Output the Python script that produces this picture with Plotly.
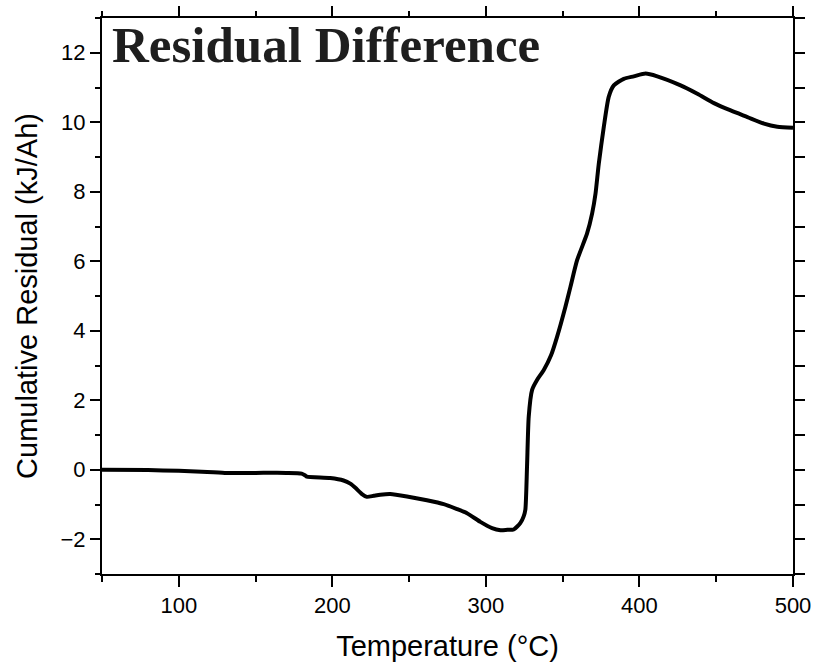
import plotly.graph_objects as go

# Data
temperature = [50, 80, 100, 115, 130, 150, 170, 180, 182.5, 183.4, 198.6, 207.3, 211.7, 215, 219.3, 222.5,
               227, 231.2, 237.7, 248.6, 261.6, 272.5, 281.2, 287.7, 296.4, 304, 309.5, 314, 318.1,
               322.5, 324.6, 325.7, 326.8, 327.9, 330.1, 333.4, 337.7, 342.5, 346.4, 351.8,
               355.1, 359.4, 365.9, 369.2, 371.4, 373.5, 376.8, 380, 383.3, 389.8, 396.3, 404,
               411.6, 426.8, 437.7, 448.5, 459.4, 470.3, 481.1, 489.8, 500]
residual = [0.0, -0.01, -0.03, -0.06, -0.09, -0.09, -0.09, -0.11, -0.17, -0.2, -0.24, -0.31, -0.40, -0.52,
            -0.70, -0.78, -0.75, -0.72, -0.70, -0.77, -0.88, -0.99, -1.13, -1.25, -1.50, -1.68, -1.74,
            -1.73, -1.72, -1.53, -1.34, -1.15, 0.1, 1.53, 2.30, 2.59, 2.87, 3.30, 3.83, 4.69,
            5.27, 6.03, 6.80, 7.38, 7.95, 8.80, 9.87, 10.73, 11.06, 11.25, 11.32, 11.40,
            11.32, 11.06, 10.82, 10.55, 10.34, 10.15, 9.96, 9.87, 9.84]

x_range = [50, 500]
y_range = [-3, 13]
x_tick_vals = [100, 200, 300, 400, 500]
y_tick_vals = [-2, 0, 2, 4, 6, 8, 10, 12]
x_title = "Temperature (°C)"
y_title = "Cumulative Residual (kJ/Ah)"
chart_title = "<b>Residual Difference</b>"

fig = go.Figure()
fig.add_trace(go.Scatter(x=temperature, y=residual, mode="lines",
                         line=dict(color="black", width=4, shape="spline", smoothing=0.6),
                         showlegend=False, hoverinfo="skip"))

tickfont = dict(family="Liberation Sans, Arial, sans-serif", size=22, color="black")
titlefont = dict(family="Liberation Sans, Arial, sans-serif", size=29, color="black")

fig.update_layout(
    width=818, height=662,
    margin=dict(l=102, r=25, t=18, b=88, autoexpand=False),
    plot_bgcolor="white", paper_bgcolor="white",
    xaxis=dict(range=x_range, tickvals=x_tick_vals, ticks="outside", ticklen=11, tickwidth=2,
               tickcolor="black", showline=True, linecolor="black", linewidth=2,
               showgrid=False, zeroline=False, tickfont=tickfont, automargin=False,
               minor=dict(dtick=50, tick0=0, ticks="outside", ticklen=6, tickwidth=2, tickcolor="black", showgrid=False),
               title=dict(text=x_title, font=titlefont, standoff=18)),
    yaxis=dict(range=y_range, tickvals=y_tick_vals, ticks="outside", ticklen=10, tickwidth=2,
               tickcolor="black", showline=True, linecolor="black", linewidth=2,
               showgrid=False, zeroline=False, tickfont=tickfont, automargin=False,
               minor=dict(dtick=1, tick0=0, ticks="outside", ticklen=5, tickwidth=2, tickcolor="black", showgrid=False),
               title=dict(text=y_title, font=titlefont, standoff=14)),
    xaxis2=dict(range=x_range, overlaying="x", side="top", tickvals=x_tick_vals, ticks="outside",
                ticklen=10, tickwidth=2, tickcolor="black", showline=True, linecolor="black",
                linewidth=2, showticklabels=False, showgrid=False, zeroline=False, automargin=False,
                minor=dict(dtick=50, tick0=0, ticks="outside", ticklen=5, tickwidth=2, tickcolor="black", showgrid=False)),
    yaxis2=dict(range=y_range, overlaying="y", side="right", dtick=1, tick0=0, ticks="outside",
                ticklen=10, tickwidth=2, tickcolor="black", showline=True, linecolor="black",
                linewidth=2, showticklabels=False, showgrid=False, zeroline=False, automargin=False),
)

# invisible trace to activate secondary axes
fig.add_trace(go.Scatter(x=[None], y=[None], xaxis="x2", yaxis="y2", showlegend=False, hoverinfo="skip"))

fig.add_annotation(text=chart_title, xref="paper", yref="paper", x=0.012, y=0.952,
                   xanchor="left", yanchor="middle", showarrow=False,
                   font=dict(family="Liberation Serif, serif", size=51, color="#1e1e1e"))

fig.write_html("out.html")
